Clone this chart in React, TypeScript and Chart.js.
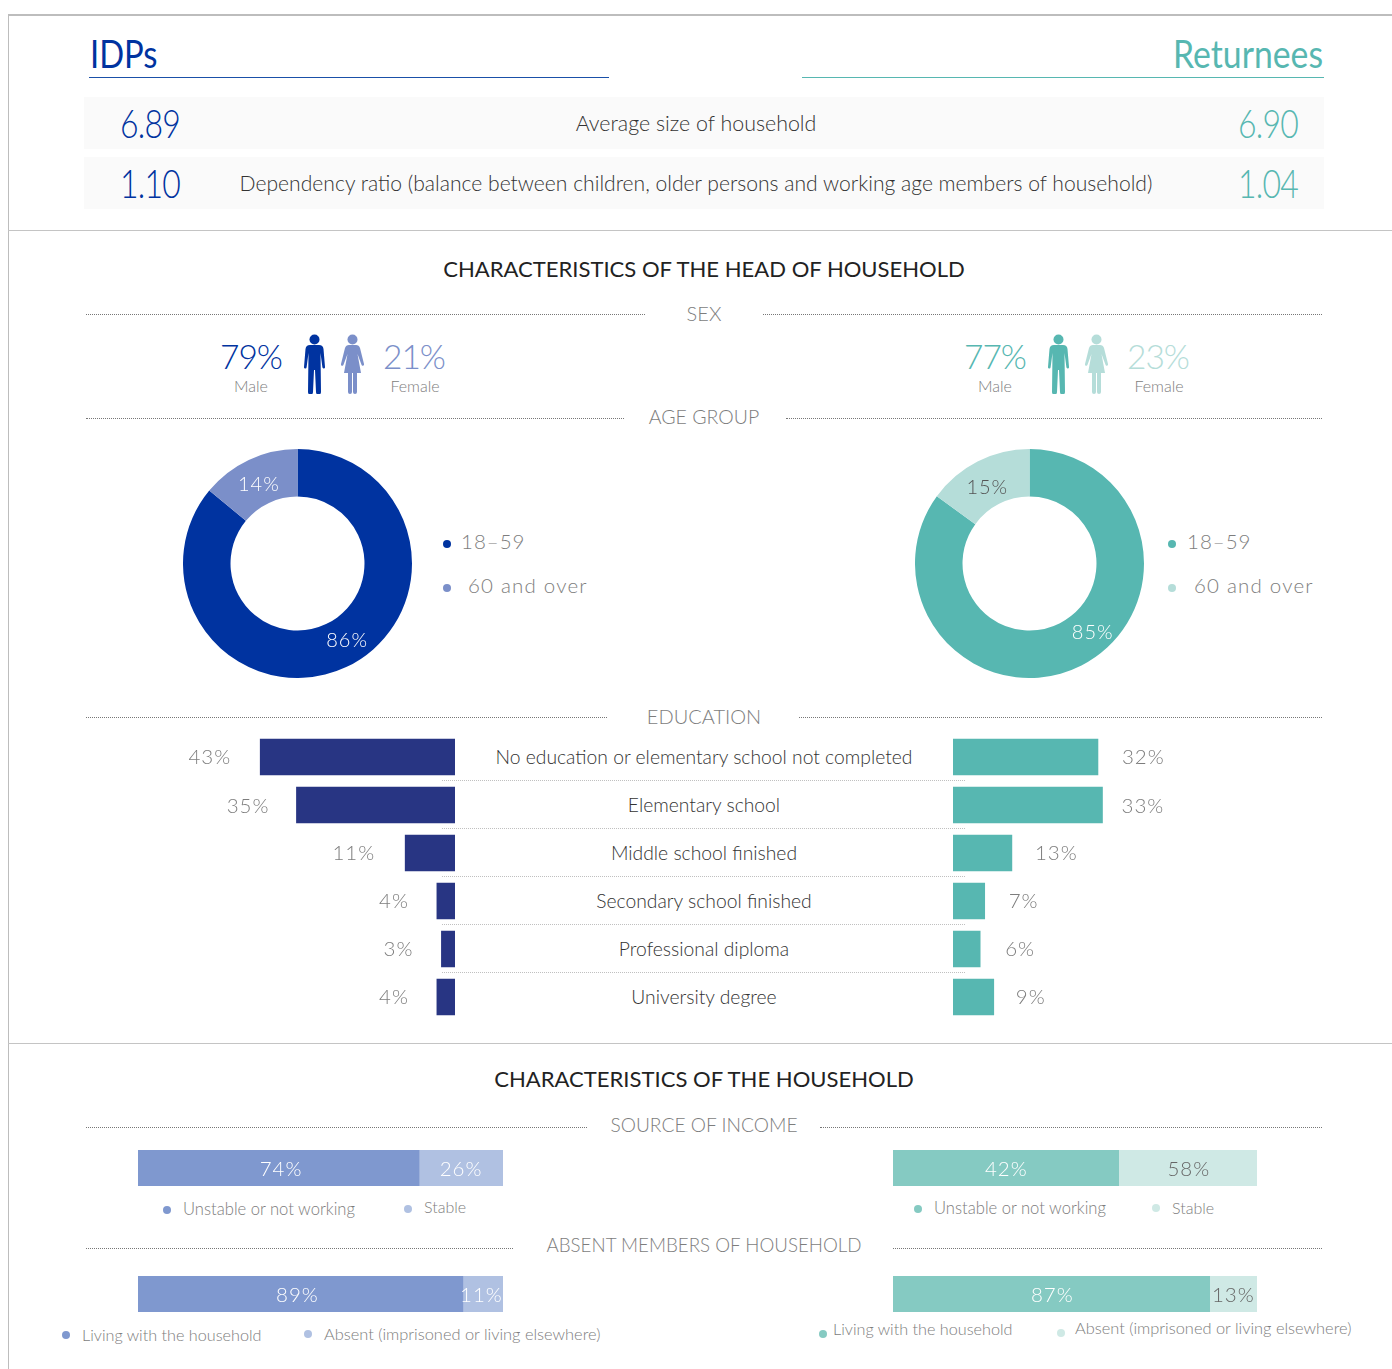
import React, { useEffect, useRef } from "react";
import { Chart, registerables } from "chart.js";

Chart.register(...registerables);

const FONT = "Lato";
const BLUE = "#0033A0";
const BLUE_LIGHT = "#7B8FC9";
const NAVY = "#283583";
const TEAL = "#57B7B1";
const TEAL_LIGHT = "#B5DDD9";
const SB_BLUE = "#7F98CF";
const SB_BLUE_L = "#B0C1E2";
const SB_TEAL = "#85CAC2";
const SB_TEAL_L = "#CFE9E5";
const GREY = "#7d7d7d";
const DARK = "#333333";

const ageLabels = ["18–59", "60 and over"];
const ageIdps = [86, 14];
const ageReturnees = [85, 15];

const educationLabels = [
  "No education or elementary school not completed",
  "Elementary school",
  "Middle school finished",
  "Secondary school finished",
  "Professional diploma",
  "University degree",
];
const educationIdps = [43, 35, 11, 4, 3, 4];
const educationReturnees = [32, 33, 13, 7, 6, 9];

// The reference draws the income bars at lengths that differ from their printed
// labels, so drawn length and printed label are kept apart.
const incomeIdpsDrawn = [77, 23];
const incomeIdpsPrinted = ["74%", "26%"];
const incomeReturneesDrawn = [62, 38];
const incomeReturneesPrinted = ["42%", "58%"];
const absentIdps = [89, 11];
const absentReturnees = [87, 13];

function useChart(make: (c: HTMLCanvasElement) => Chart) {
  const ref = useRef<HTMLCanvasElement>(null);
  useEffect(() => {
    const ch = make(ref.current!);
    return () => ch.destroy();
  }, []);
  return ref;
}

function Donut({ x, y, data, colors, offsets, label }: any) {
  const ref = useChart((c) =>
    new Chart(c, {
      type: "doughnut",
      data: { labels: ageLabels, datasets: [{ data, backgroundColor: colors, borderWidth: 0 }] },
      options: {
        animation: false,
        responsive: false,
        cutout: "58.5%",
        plugins: { legend: { display: false }, tooltip: { enabled: false } },
      },
      plugins: [
        {
          id: "donutLabels",
          afterDatasetsDraw(chart: any) {
            const g = chart.ctx;
            g.save();
            g.font = `300 20px ${FONT}`;
            (g as any).letterSpacing = "1px";
            g.textAlign = "center";
            g.textBaseline = "middle";
            chart.getDatasetMeta(0).data.forEach((a: any, i: number) => {
              const p = a.getCenterPoint();
              g.fillStyle = label[i];
              g.fillText(`${data[i]}%`, p.x + offsets[i][0], p.y + offsets[i][1]);
            });
            g.restore();
          },
        },
      ],
    } as any)
  );
  return <canvas ref={ref} width={229} height={229} style={{ position: "absolute", left: x, top: y, width: 229, height: 229 }} />;
}

function EduBars({ x, data, color, side, gaps }: any) {
  const width = 305;
  const ref = useChart((c) =>
    new Chart(c, {
      type: "bar",
      data: {
        labels: educationLabels,
        datasets: [{ data, backgroundColor: color, borderWidth: 0, barThickness: 36 }],
      },
      options: {
        animation: false,
        responsive: false,
        indexAxis: "y",
        layout: { padding: side === "left" ? { left: 78.5 } : { right: 78.5 } },
        scales: {
          x: { display: false, min: 0, max: 50, reverse: side === "left" },
          y: { display: false },
        },
        plugins: { legend: { display: false }, tooltip: { enabled: false } },
      },
      plugins: [
        {
          id: "eduLabels",
          afterDatasetsDraw(chart: any) {
            const g = chart.ctx;
            g.save();
            g.font = `300 20.5px ${FONT}`;
            (g as any).letterSpacing = "1px";
            g.fillStyle = GREY;
            g.textBaseline = "middle";
            g.textAlign = side === "left" ? "right" : "left";
            chart.getDatasetMeta(0).data.forEach((b: any, i: number) => {
              const px = side === "left" ? b.x - gaps[i] : b.x + gaps[i];
              g.fillText(`${data[i]}%`, px, b.y + (i === 1 ? 1 : 0.5));
            });
            g.restore();
          },
        },
      ],
    } as any)
  );
  return <canvas ref={ref} width={width} height={288} style={{ position: "absolute", left: x, top: 733, width, height: 288 }} />;
}

function Stack({ x, y, w, data, printed, colors, labelColors, dx = [0, 0] }: any) {
  const ref = useChart((c) =>
    new Chart(c, {
      type: "bar",
      data: {
        labels: ["share"],
        datasets: data.map((v: number, i: number) => ({
          data: [v],
          backgroundColor: colors[i],
          borderWidth: 0,
          barPercentage: 1,
          categoryPercentage: 1,
        })),
      },
      options: {
        animation: false,
        responsive: false,
        indexAxis: "y",
        scales: {
          x: { display: false, stacked: true, min: 0, max: 100 },
          y: { display: false, stacked: true },
        },
        plugins: { legend: { display: false }, tooltip: { enabled: false } },
      },
      plugins: [
        {
          id: "stackLabels",
          afterDatasetsDraw(chart: any) {
            const g = chart.ctx;
            g.save();
            g.font = `300 20.5px ${FONT}`;
            (g as any).letterSpacing = "1px";
            g.textAlign = "center";
            g.textBaseline = "middle";
            data.forEach((_: number, i: number) => {
              const b = chart.getDatasetMeta(i).data[0];
              g.fillStyle = labelColors[i];
              g.fillText(printed[i], (b.x + b.base) / 2 + dx[i], b.y + 1.5);
            });
            g.restore();
          },
        },
      ],
    } as any)
  );
  return <canvas ref={ref} width={w} height={36} style={{ position: "absolute", left: x, top: y, width: w, height: 36 }} />;
}

function T({ x, y, s, c = GREY, a = "center", w = 300, ls = 0, sx = 1, children }: any) {
  const tx = a === "center" ? "-50%" : a === "right" ? "-100%" : "0";
  return (
    <div
      style={{
        position: "absolute",
        left: x,
        top: y,
        transform: `translate(${tx},-50%) scaleX(${sx})`,
        transformOrigin: a === "center" ? "center" : a === "right" ? "right center" : "left center",
        fontFamily: FONT,
        fontWeight: w,
        fontSize: s,
        color: c,
        letterSpacing: ls,
        lineHeight: 1,
        whiteSpace: "nowrap",
      }}
    >
      {children}
    </div>
  );
}

const Box = ({ x, y, w, h, c }: any) => (
  <div style={{ position: "absolute", left: x, top: y, width: w, height: h, background: c }} />
);

const Dotted = ({ x1, x2, y, c = "#777777" }: any) => (
  <div style={{ position: "absolute", left: x1, top: y, width: x2 - x1, borderTop: `1px dotted ${c}` }} />
);

const Dot = ({ x, y, c, r = 4 }: any) => (
  <div style={{ position: "absolute", left: x - r, top: y - r, width: r * 2, height: r * 2, borderRadius: "50%", background: c }} />
);

const Man = ({ x, c }: any) => (
  <svg style={{ position: "absolute", left: x, top: 334 }} width={21} height={60} viewBox="0 0 21 60">
    <circle cx={10.5} cy={5.5} r={5} fill={c} />
    <path
      fill={c}
      d="M6 11 H15 Q19 11 19.5 15 L21 33 a1.3 1.3 0 0 1 -2.6 .3 L16.5 19 L17 58 a2 2 0 0 1 -5 0 L11 36 H10 L9 58 a2 2 0 0 1 -5 0 L4.5 19 L2.6 33.3 a1.3 1.3 0 0 1 -2.6 -.3 L1.5 15 Q2 11 6 11Z"
    />
  </svg>
);

const Woman = ({ x, c }: any) => (
  <svg style={{ position: "absolute", left: x, top: 334 }} width={23} height={60} viewBox="0 0 23 60">
    <circle cx={11.5} cy={5.5} r={5} fill={c} />
    <path
      fill={c}
      d="M8 11 H15 Q18 11 19 14 L23 30 a1.3 1.3 0 0 1 -2.5 .8 L16.5 20 L20 39 H3 L6.5 20 L2.5 30.8 a1.3 1.3 0 0 1 -2.5 -.8 L4 14 Q5 11 8 11Z M7 39 H11 V58 a1.8 1.8 0 0 1 -4 0Z M12 39 H16 V58 a1.8 1.8 0 0 1 -4 0Z"
    />
  </svg>
);

export default function App() {
  const rowY = [756.5, 804.5, 852.5, 900.5, 948.5, 996.5];
  return (
    <div style={{ position: "absolute", left: 0, top: 0, width: 1392, height: 1369, overflow: "hidden", background: "#fff" }}>
      <Box x={8} y={14} w={1384} h={1.5} c="#bdbdbd" />
      <Box x={8} y={14} w={1} h={1355} c="#bdbdbd" />
      <Box x={8} y={229.5} w={1384} h={1.5} c="#c4c4c4" />
      <Box x={8} y={1042.5} w={1384} h={1.5} c="#c4c4c4" />

      <T x={90} y={53} s={39} sx={0.84} c={BLUE} a="left" w={400}>IDPs</T>
      <T x={1323} y={53} s={39} sx={0.865} c={TEAL} a="right" w={400}>Returnees</T>
      <Box x={89} y={77} w={520} h={1} c="#1a50a8" />
      <Box x={802} y={77} w={522} h={1} c={TEAL} />

      <Box x={84} y={97} w={1240} h={52} c="#fafafa" />
      <Box x={84} y={157} w={1240} h={52} c="#fafafa" />
      <T x={150} y={123} s={39} sx={0.82} c={BLUE} ls={-1}>6.89</T>
      <T x={150} y={183} s={39} sx={0.82} c={BLUE} ls={-1}>1.10</T>
      <T x={1268} y={123} s={39} sx={0.82} c={TEAL} ls={-1}>6.90</T>
      <T x={1268} y={183} s={39} sx={0.82} c={TEAL} ls={-1}>1.04</T>
      <T x={696} y={124} s={21.4} c={DARK}>Average size of household</T>
      <T x={696} y={183} s={21.1} c={DARK}>Dependency ratio (balance between children, older persons and working age members of household)</T>

      <T x={704} y={268.5} s={22.05} c="#222" w={400}>CHARACTERISTICS OF THE HEAD OF HOUSEHOLD</T>

      <Dotted x1={86} x2={645} y={314} />
      <Dotted x1={763} x2={1322} y={314} />
      <T x={704} y={313} s={20}>SEX</T>

      <T x={251} y={357} s={33.5} c={BLUE} ls={-1}>79%</T>
      <T x={251} y={386} s={16}>Male</T>
      <Man x={304} c={BLUE} />
      <Woman x={341} c={BLUE_LIGHT} />
      <T x={414} y={357} s={33.5} c={BLUE_LIGHT} ls={-1}>21%</T>
      <T x={415} y={386} s={16}>Female</T>

      <T x={995} y={357} s={33.5} c={TEAL} ls={-1}>77%</T>
      <T x={995} y={386} s={16}>Male</T>
      <Man x={1048} c={TEAL} />
      <Woman x={1085} c={TEAL_LIGHT} />
      <T x={1158} y={357} s={33.5} c={TEAL_LIGHT} ls={-1}>23%</T>
      <T x={1159} y={386} s={16}>Female</T>

      <Dotted x1={86} x2={624} y={418} />
      <Dotted x1={786} x2={1322} y={418} />
      <T x={704} y={417} s={19.5}>AGE GROUP</T>

      <Donut x={183} y={449} data={ageIdps} colors={[BLUE, BLUE_LIGHT]} label={["#ffffff", "#ffffff"]} offsets={[[11, -5], [0, 3.5]]} />
      <Donut x={915} y={449} data={ageReturnees} colors={[TEAL, TEAL_LIGHT]} label={["#ffffff", "#555555"]} offsets={[[22, -12], [-1, 5]]} />

      <Dot x={447} y={544} c={BLUE} />
      <T x={461} y={541} s={20.5} a="left" ls={1}>{ageLabels[0]}</T>
      <Dot x={447} y={588} c={BLUE_LIGHT} />
      <T x={468} y={585} s={20.5} a="left" ls={1.2}>{ageLabels[1]}</T>
      <Dot x={1172} y={544} c={TEAL} />
      <T x={1187} y={541} s={20.5} a="left" ls={1}>{ageLabels[0]}</T>
      <Dot x={1172} y={588} c={TEAL_LIGHT} />
      <T x={1194} y={585} s={20.5} a="left" ls={1.2}>{ageLabels[1]}</T>

      <Dotted x1={86} x2={607} y={717} />
      <Dotted x1={799} x2={1322} y={717} />
      <T x={704} y={716} s={20}>EDUCATION</T>

      <EduBars x={150} data={educationIdps} color={NAVY} side="left" gaps={[29, 27, 30, 28, 28, 28]} />
      <EduBars x={953} data={educationReturnees} color={TEAL} side="right" gaps={[24, 19, 23, 24, 25, 22]} />

      {educationLabels.map((l, i) => (
        <T key={l} x={704} y={rowY[i]} s={19.3} c={DARK}>{l}</T>
      ))}
      {[780, 828, 876, 924, 972].map((y) => (
        <Dotted key={y} x1={442} x2={965} y={y} c="#c0c0c0" />
      ))}

      <T x={704} y={1078.5} s={22.05} c="#222" w={400}>CHARACTERISTICS OF THE HOUSEHOLD</T>

      <Dotted x1={86} x2={587} y={1127} />
      <Dotted x1={820} x2={1322} y={1127} />
      <T x={704} y={1125} s={19.2}>SOURCE OF INCOME</T>

      <Stack x={138} y={1150} w={365} data={incomeIdpsDrawn} printed={incomeIdpsPrinted} colors={[SB_BLUE, SB_BLUE_L]} labelColors={["#fff", "#fff"]} dx={[2.5, 0]} />
      <Stack x={893} y={1150} w={364} data={incomeReturneesDrawn} printed={incomeReturneesPrinted} colors={[SB_TEAL, SB_TEAL_L]} labelColors={["#fff", "#666"]} dx={[0.5, 1]} />

      <Dot x={167} y={1210} c={SB_BLUE} />
      <T x={183} y={1209} s={16.6} a="left">Unstable or not working</T>
      <Dot x={408} y={1209} c={SB_BLUE_L} />
      <T x={424} y={1207} s={16} a="left">Stable</T>
      <Dot x={918} y={1209} c={SB_TEAL} />
      <T x={934} y={1208} s={16.6} a="left">Unstable or not working</T>
      <Dot x={1156} y={1208} c={SB_TEAL_L} />
      <T x={1172} y={1208} s={16} a="left">Stable</T>

      <Dotted x1={86} x2={513} y={1248} />
      <Dotted x1={893} x2={1322} y={1248} />
      <T x={704} y={1245} s={18.75}>ABSENT MEMBERS OF HOUSEHOLD</T>

      <Stack x={138} y={1276} w={365} data={absentIdps} printed={absentIdps.map((v) => `${v}%`)} colors={[SB_BLUE, SB_BLUE_L]} labelColors={["#fff", "#fff"]} dx={[-3, -1.5]} />
      <Stack x={893} y={1276} w={364} data={absentReturnees} printed={absentReturnees.map((v) => `${v}%`)} colors={[SB_TEAL, SB_TEAL_L]} labelColors={["#fff", "#666"]} dx={[1, 0]} />

      <Dot x={66} y={1335} c={SB_BLUE} />
      <T x={82} y={1335} s={16.2} a="left">Living with the household</T>
      <Dot x={308} y={1334} c={SB_BLUE_L} />
      <T x={324} y={1334} s={16.4} a="left">Absent (imprisoned or living elsewhere)</T>
      <Dot x={823} y={1334} c={SB_TEAL} />
      <T x={833} y={1329} s={16.2} a="left">Living with the household</T>
      <Dot x={1061} y={1333} c={SB_TEAL_L} />
      <T x={1075} y={1328} s={16.4} a="left">Absent (imprisoned or living elsewhere)</T>
    </div>
  );
}
